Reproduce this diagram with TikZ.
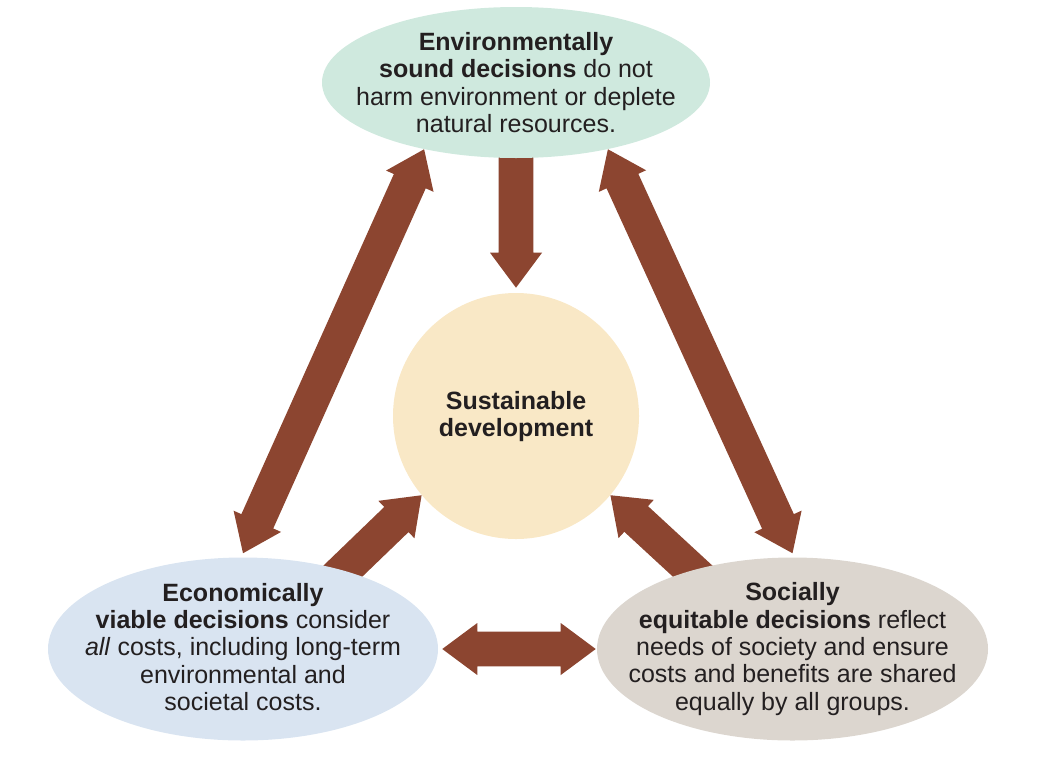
\documentclass[tikz,border=0pt]{standalone}
\usepackage{fontspec}
\setmainfont{Liberation Sans}
\usetikzlibrary{shapes.geometric,calc}
\definecolor{arrc}{HTML}{8C4530}
\definecolor{ink}{HTML}{231F20}
\definecolor{envc}{HTML}{CFE9DE}
\definecolor{susc}{HTML}{F9E8C6}
\definecolor{ecoc}{HTML}{D9E4F1}
\definecolor{socc}{HTML}{DCD6CF}
\def\sw{13.1pt}
\def\hw{19.5pt}
\def\hl{26.25pt}
% single-headed block arrow from #1 to #2
\newcommand\blkarrow[2]{%
  \fill[arrc] let \p1=($(#2)-(#1)$), \n1={atan2(\y1,\x1)} in
    ($(#1)+({\n1+90}:\sw)$)
    -- ($(#2)+({\n1+180}:\hl)+({\n1+90}:\sw)$)
    -- ($(#2)+({\n1+180}:\hl)+({\n1+90}:\hw)$)
    -- (#2)
    -- ($(#2)+({\n1+180}:\hl)+({\n1-90}:\hw)$)
    -- ($(#2)+({\n1+180}:\hl)+({\n1-90}:\sw)$)
    -- ($(#1)+({\n1-90}:\sw)$) -- cycle;}
% double-headed block arrow between #1 and #2
\newcommand\dblarrow[2]{%
  \fill[arrc] let \p1=($(#2)-(#1)$), \n1={atan2(\y1,\x1)} in
    ($(#1)+(\n1:\hl)+({\n1+90}:\sw)$)
    -- ($(#2)+({\n1+180}:\hl)+({\n1+90}:\sw)$)
    -- ($(#2)+({\n1+180}:\hl)+({\n1+90}:\hw)$)
    -- (#2)
    -- ($(#2)+({\n1+180}:\hl)+({\n1-90}:\hw)$)
    -- ($(#2)+({\n1+180}:\hl)+({\n1-90}:\sw)$)
    -- ($(#1)+(\n1:\hl)+({\n1-90}:\sw)$)
    -- ($(#1)+(\n1:\hl)+({\n1-90}:\hw)$)
    -- (#1)
    -- ($(#1)+(\n1:\hl)+({\n1+90}:\hw)$) -- cycle;}
\begin{document}
\begin{tikzpicture}[x=0.75pt,y=-0.75pt,
  blob/.style={ellipse,inner sep=0pt,draw=none},
  txt/.style={align=center,inner sep=0pt,text=ink,
    font=\fontsize{18.75pt}{20.6pt}\selectfont}]
\useasboundingbox (0,0) rectangle (1055,757);
% shapes (positions only, drawn later on top of arrows)
\path (516,82.5) node[blob,minimum width=291pt,minimum height=113.25pt] (T) {};
\path (516,416) node[circle,inner sep=0pt,minimum size=184.5pt] (C) {};
\path (243,649) node[blob,minimum width=292.5pt,minimum height=137.25pt] (L) {};
\path (792.5,649) node[blob,minimum width=293.25pt,minimum height=137.25pt] (R) {};
% arrow end points
\coordinate (Tb) at ($(T.south)+(0,-8)$);
\coordinate (Ct) at ($(C.north)+(0,-5)$);
\coordinate (Ln) at ($(L.north)+(0,-4)$);
\coordinate (Rn) at ($(R.north)+(0,-4)$);
\coordinate (Le) at ($(L.east)+(4,0)$);
\coordinate (Rw) at ($(R.west)+(-1,0)$);
\coordinate (Lt) at ($(L.38)!-12pt!(C.220)$);
\coordinate (Rt) at ($(R.142)!-12pt!(C.320)$);
% arrows
\blkarrow{Tb}{Ct}
\dblarrow{T.216}{Ln}
\dblarrow{T.324}{Rn}
\blkarrow{Lt}{C.220}
\blkarrow{Rt}{C.320}
\dblarrow{Le}{Rw}
% filled shapes on top
\fill[envc] (T.center) ellipse [x radius=145.5pt, y radius=56.625pt];
\fill[susc] (C.center) circle [radius=92.25pt];
\fill[ecoc] (L.center) ellipse [x radius=146.25pt, y radius=68.625pt];
\fill[socc] (R.center) ellipse [x radius=146.625pt, y radius=68.625pt];
% texts
\node[txt] (Tt) at (T.center) {\textbf{Environmentally}\\\textbf{sound decisions} do not\\harm environment or deplete\\natural resources.};
\node[txt,font=\fontsize{18.75pt}{20.25pt}\selectfont] (Ctx) at ($(C.center)+(0,1)$) {\textbf{Sustainable}\\\textbf{development}};
\node[txt] (Lt2) at ($(L.center)+(0,-2)$) {\textbf{Economically}\\\textbf{viable decisions} consider\\\textit{all} costs, including long-term\\environmental and\\societal costs.};
\node[txt] (Rt2) at (R.center) {\textbf{Socially}\\\textbf{equitable decisions} reflect\\needs of society and ensure\\costs and benefits are shared\\equally by all groups.};
\end{tikzpicture}
\end{document}
